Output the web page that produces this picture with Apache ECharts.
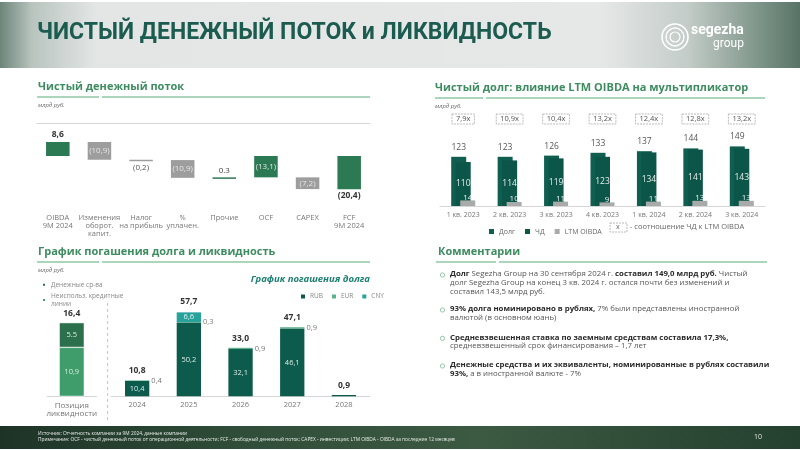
<!DOCTYPE html>
<html><head><meta charset="utf-8">
<script src="https://cdn.jsdelivr.net/npm/echarts@6/dist/echarts.min.js"></script>
<style>html,body{margin:0;padding:0;background:#fff}#c{width:800px;height:450px}</style>
</head><body><div id="c"></div>
<script>
// ---------- DATA ----------
const wfCategories = ['OIBDA\n9M 2024', 'Изменения\nоборот.\nкапит.', 'Налог\nна прибыль', '%\nуплачен.', 'Прочие', 'OCF', 'CAPEX', 'FCF\n9M 2024'];
const wfValues = [8.6, -10.9, -0.2, -10.9, 0.3, -13.1, -7.2, -20.4];
const wfIsTotal = [true, false, false, false, false, true, false, true];
const wfLabels = ['8,6', '(10,9)', '(0,2)', '(10,9)', '0.3', '(13,1)', '(7,2)', '(20,4)'];

const ndCategories = ['1 кв. 2023', '2 кв. 2023', '3 кв. 2023', '4 кв. 2023', '1 кв. 2024', '2 кв. 2024', '3 кв. 2024'];
const ndDebt = [123, 123, 126, 133, 137, 144, 149];
const ndNetDebt = [110, 114, 119, 123, 134, 141, 143];
const ndOibda = [14, 10, 11, 9, 11, 13, 13];
const ndRatio = ['7,9x', '10,9x', '10,4x', '13,2x', '12,4x', '12,8x', '13,2x'];

const liqCategories = ['Позиция\nликвидности'];
const liqCash = [5.5];
const liqCredit = [10.9];
const liqTotal = [16.4];

const repCategories = ['2024', '2025', '2026', '2027', '2028'];
const repRUB = [10.4, 50.2, 32.1, 46.1, 0.9];
const repEUR = [0.4, 0.3, 0.9, 0.9, 0];
const repCNY = [0, 6.6, 0, 0, 0];
const repTotal = [10.8, 57.7, 33.0, 47.1, 0.9];

// ---------- STYLE ----------
const FONT = '"Open Sans", "Noto Sans", sans-serif';
const C_GREEN = '#2b7a53', C_GRAY = '#9d9d9d';
const wfLabelPlace = ['top', 'inside', 'bottom', 'inside', 'top', 'inside', 'inside', 'bottom'];
const fmt = v => v.toFixed(1).replace('.', ',');

// waterfall ranges derived from values
const wfData = [];
let run = 0;
wfValues.forEach((v, i) => {
  let s, e;
  if (wfIsTotal[i]) { s = 0; e = v; run = v; } else { s = run; run = run + v; e = run; }
  wfData.push([i, s, e]);
});

const chart = echarts.init(document.getElementById('c'), null, {renderer: 'canvas'});

function sectionTitle(text, x, y, x0, gap, x1) {
  return [
    {type: 'text', left: x, top: y - 7, style: {text, font: 'bold 11px ' + FONT, fill: '#3d8c60'}},
    {type: 'line', shape: {x1: x0, y1: y + 9, x2: gap, y2: y + 9}, style: {stroke: '#8fc8a6', lineWidth: 1.5}},
    {type: 'line', shape: {x1: gap + 3, y1: y + 9, x2: x1, y2: y + 9}, style: {stroke: '#8fc8a6', lineWidth: 1.5}},
    {type: 'text', left: x, top: y + 14, style: {text: 'млрд руб.', font: 'italic 6px ' + FONT, fill: '#666'}}
  ];
}

const richB = {b: {fontWeight: 'bold', fill: '#2a2a2a', fontSize: 7.8, fontFamily: 'Open Sans'}};
function cLine(text, y) {
  return {type: 'text', left: 450, top: y - 5, style: {text, font: '7.8px ' + FONT, fill: '#555', rich: richB}};
}
function bullet(y) {
  return {type: 'circle', shape: {cx: 442.5, cy: y, r: 2.1}, style: {fill: 'none', stroke: '#8abf9f', lineWidth: 0.9}};
}

const graphic = [
  // header
  {type: 'rect', shape: {x: 0, y: 2, width: 800, height: 66}, style: {fill: new echarts.graphic.LinearGradient(0, 0, 1, 0, [
    {offset: 0, color: '#6c8579'}, {offset: 0.04, color: '#b9c4bf'}, {offset: 0.12, color: '#e3e6e5'},
    {offset: 0.75, color: '#e6e8e7'}, {offset: 0.86, color: '#c3ccc8'}, {offset: 0.95, color: '#7d9488'}, {offset: 1, color: '#587366'}])}, z: 0},
  {type: 'text', left: 37, top: 22, style: {text: 'ЧИСТЫЙ ДЕНЕЖНЫЙ ПОТОК и ЛИКВИДНОСТЬ', font: 'bold 23px Roboto, "Liberation Sans", sans-serif', fill: '#1c5b4f'}},
  {type: 'circle', shape: {cx: 675, cy: 37, r: 13}, style: {fill: 'none', stroke: '#fff', lineWidth: 1.6}},
  {type: 'circle', shape: {cx: 675, cy: 37, r: 9}, style: {fill: 'none', stroke: '#fff', lineWidth: 1.4}},
  {type: 'circle', shape: {cx: 675, cy: 37, r: 5}, style: {fill: 'none', stroke: '#fff', lineWidth: 1.2}},
  {type: 'text', left: 691, top: 23, style: {text: 'segezha', font: 'bold 14px Roboto, sans-serif', fill: '#fff'}},
  {type: 'text', left: 713, top: 38, style: {text: 'group', font: '12px Roboto, sans-serif', fill: '#fff'}},
  // footer
  {type: 'rect', shape: {x: 0, y: 426, width: 800, height: 23}, style: {fill: new echarts.graphic.LinearGradient(0, 0, 1, 0, [
    {offset: 0, color: '#1d3326'}, {offset: 0.3, color: '#2f4d38'}, {offset: 0.6, color: '#3c5a42'}, {offset: 1, color: '#24402f'}])}},
  {type: 'text', left: 38, top: 431, style: {text: 'Источник: Отчетность компании за 9М 2024, данные компании', font: '4.8px ' + FONT, fill: '#e8ece9'}},
  {type: 'text', left: 38, top: 437.5, style: {text: 'Примечание: OCF - чистый денежный поток от операционной деятельности; FCF - свободный денежный поток; CAPEX - инвестиции; LTM OIBDA - OIBDA за последние 12 месяцев', font: '4.8px ' + FONT, fill: '#e8ece9'}},
  {type: 'text', left: 754, top: 433, style: {text: '10', font: '7px ' + FONT, fill: '#dfe6e1'}},
  ...sectionTitle('Чистый денежный поток', 38, 88, 37, 99, 370),
  ...sectionTitle('Чистый долг: влияние LTM OIBDA на мультипликатор', 435, 89, 435, 483, 765),
  ...sectionTitle('График погашения долга и ликвидность', 38, 253, 37, 99, 370),
  {type: 'text', left: 438, top: 246, style: {text: 'Комментарии', font: 'bold 11px ' + FONT, fill: '#3d8c60'}},
  {type: 'line', shape: {x1: 436, y1: 262, x2: 496, y2: 262}, style: {stroke: '#8fc8a6', lineWidth: 1.5}},
  {type: 'line', shape: {x1: 499, y1: 262, x2: 767, y2: 262}, style: {stroke: '#8fc8a6', lineWidth: 1.5}},
  // net debt legend ratio box
  {type: 'rect', shape: {x: 610, y: 223, width: 17, height: 9}, style: {fill: '#fff', stroke: '#aaa', lineWidth: 0.8, lineDash: [2, 1]}},
  {type: 'text', left: 616, top: 223.5, style: {text: 'x', font: '7px ' + FONT, fill: '#666'}},
  {type: 'text', left: 630, top: 223, style: {text: '- соотношение ЧД к LTM OIBDA', font: '7.5px ' + FONT, fill: '#666'}},
  // repayment subtitle & separator
  {type: 'text', right: 430, top: 274, style: {text: 'График погашения долга', font: 'italic bold 9.5px ' + FONT, fill: '#1d7f72'}},
  {type: 'line', shape: {x1: 107.7, y1: 303, x2: 107.7, y2: 420}, style: {stroke: '#b5b5b5', lineWidth: 0.8, lineDash: [3, 3]}},
  // comments
  bullet(275), bullet(310), bullet(338.3), bullet(366),
  cLine('{b|Долг} Segezha Group на 30 сентября 2024 г. {b|составил 149,0 млрд руб.} Чистый', 275),
  cLine('долг Segezha Group на конец 3 кв. 2024 г. остался почти без изменений и', 283.7),
  cLine('составил 143,5 млрд руб.', 292.3),
  cLine('{b|93% долга номинировано в рублях,} 7% были представлены иностранной', 310),
  cLine('валютой (в основном юань)', 318.7),
  cLine('{b|Средневзвешенная ставка по заемным средствам составила 17,3%,}', 338.3),
  cLine('средневзвешенный срок финансирования – 1,7 лет', 346.7),
  cLine('{b|Денежные средства и их эквиваленты, номинированные в рублях составили}', 366),
  cLine('{b|93%,} а в иностранной валюте - 7%', 374.3)
];

const catLabel = {fontSize: 7.5, color: '#777', fontFamily: 'Open Sans', lineHeight: 8};
const hiddenAxis = {axisLine: {show: false}, axisTick: {show: false}, splitLine: {show: false}};

const option = {
  animation: false,
  textStyle: {fontFamily: 'Open Sans'},
  grid: [
    {left: 37, top: 123.4, width: 333, height: 81.5},
    {left: 440, top: 126, width: 325, height: 80},
    {left: 47, top: 306.5, width: 49.5, height: 89.8},
    {left: 111.3, top: 293.4, width: 258.5, height: 102.9}
  ],
  xAxis: [
    {type: 'category', gridIndex: 0, data: wfCategories, ...hiddenAxis, axisLabel: {...catLabel, margin: 9, interval: 0}},
    {type: 'category', gridIndex: 0, data: wfCategories, axisLine: {onZero: true, lineStyle: {color: '#d6d6d6', width: 1}}, axisTick: {show: false}, axisLabel: {show: false}},
    {type: 'category', gridIndex: 1, data: ndCategories, axisLine: {lineStyle: {color: '#d6d6d6'}}, axisTick: {show: false}, axisLabel: {...catLabel, fontSize: 7, margin: 5, interval: 0}},
    {type: 'category', gridIndex: 1, position: 'top', data: ndRatio, ...hiddenAxis, axisLabel: {fontSize: 7.5, color: '#555', fontFamily: 'Open Sans', margin: 2, padding: [1, 4, 1, 4], borderColor: '#aaa', borderWidth: 0.8, borderType: [2, 1], interval: 0}},
    {type: 'category', gridIndex: 2, data: liqCategories, axisLine: {lineStyle: {color: '#d6d6d6'}}, axisTick: {show: false}, axisLabel: {...catLabel, fontSize: 8, margin: 5}},
    {type: 'category', gridIndex: 3, data: repCategories, axisLine: {lineStyle: {color: '#d6d6d6'}}, axisTick: {show: false}, axisLabel: {...catLabel, fontSize: 7.5, margin: 5}}
  ],
  yAxis: [
    {type: 'value', gridIndex: 0, min: -30, max: 20, show: false},
    {type: 'value', gridIndex: 1, min: 0, max: 200, show: false},
    {type: 'value', gridIndex: 2, min: 0, max: 20, show: false},
    {type: 'value', gridIndex: 3, min: 0, max: 70, show: false}
  ],
  legend: [
    {data: ['Долг', 'ЧД', 'LTM OIBDA'], left: 484, top: 223, icon: 'rect', itemWidth: 5, itemHeight: 5, itemGap: 10,
      textStyle: {fontSize: 7, color: '#666', fontFamily: 'Open Sans'}},
    {data: ['Денежные ср-ва', 'Неиспольз. кредитные\nлинии'], orient: 'vertical', left: 36, top: 276, icon: 'rect', itemWidth: 4, itemHeight: 4, itemGap: 4,
      textStyle: {fontSize: 6.5, color: '#888', fontFamily: 'Open Sans', lineHeight: 7.5}},
    {data: ['RUB', 'EUR', 'CNY'], left: 296, top: 288, icon: 'rect', itemWidth: 4, itemHeight: 4, itemGap: 9,
      textStyle: {fontSize: 6.5, color: '#888', fontFamily: 'Open Sans'}}
  ],
  series: [
    {
      type: 'custom', name: 'wf', xAxisIndex: 0, yAxisIndex: 0, clip: false,
      encode: {x: 0, y: [1, 2]},
      data: wfData,
      renderItem: function (params, api) {
        const i = api.value(0);
        const p1 = api.coord([i, api.value(1)]);
        const p2 = api.coord([i, api.value(2)]);
        const w = api.size([1, 0])[0] * 0.565;
        const y1 = Math.min(p1[1], p2[1]);
        const h = Math.max(Math.abs(p2[1] - p1[1]), 1.5);
        const y2 = y1 + h;
        const color = wfIsTotal[i] || wfValues[i] > 0 ? C_GREEN : C_GRAY;
        const place = wfLabelPlace[i];
        let ly, va, fill, weight = 'normal';
        if (place === 'inside') { ly = (y1 + y2) / 2; va = 'middle'; fill = '#e4e8e5'; }
        else if (place === 'top') { ly = y1 - 3; va = 'bottom'; fill = '#444'; }
        else { ly = y2 + 2; va = 'top'; fill = '#555'; }
        if (wfIsTotal[i] && place !== 'inside') { weight = 'bold'; fill = '#333'; }
        return {
          type: 'group', children: [
            {type: 'rect', shape: {x: p1[0] - w / 2, y: y1, width: w, height: h}, style: {fill: color}},
            {type: 'text', style: {text: wfLabels[i], x: p1[0], y: ly, align: 'center', verticalAlign: va, fill,
              font: weight + ' ' + (weight === 'bold' ? 8.5 : 8) + 'px ' + FONT}}
          ]
        };
      }
    },
    {
      type: 'bar', name: 'Долг', xAxisIndex: 2, yAxisIndex: 1, data: ndDebt, barWidth: 15, itemStyle: {color: '#0f5e50'},
      label: {show: true, position: 'top', distance: 5, fontSize: 8.5, color: '#555', fontFamily: 'Open Sans'}
    },
    {
      type: 'bar', name: 'ЧД', xAxisIndex: 2, yAxisIndex: 1, data: ndNetDebt, barWidth: 15, itemStyle: {color: '#0b5649'},
      label: {show: true, position: 'inside', fontSize: 8.5, color: '#e6efec', fontFamily: 'Open Sans'}
    },
    {
      type: 'bar', name: 'LTM OIBDA', xAxisIndex: 2, yAxisIndex: 1, data: ndOibda, barWidth: 15, barGap: '-70%', itemStyle: {color: '#a9abaa'},
      label: {show: true, position: 'top', distance: -1, fontSize: 8, color: '#eef2f0', fontFamily: 'Open Sans'}
    },
    {
      type: 'bar', name: 'Неиспольз. кредитные\nлинии', xAxisIndex: 4, yAxisIndex: 2, stack: 'liq', data: liqCredit, barWidth: 25,
      itemStyle: {color: '#3f9d6c', borderColor: '#fff', borderWidth: 0.5},
      label: {show: true, position: 'inside', fontSize: 7.5, color: '#d8eee1', formatter: p => fmt(p.value)}
    },
    {
      type: 'bar', name: 'Денежные ср-ва', xAxisIndex: 4, yAxisIndex: 2, stack: 'liq', data: liqCash, barWidth: 25,
      itemStyle: {color: '#2c6f4d', borderColor: '#fff', borderWidth: 0.5},
      label: {show: true, position: 'inside', fontSize: 7.5, color: '#d8eee1', formatter: p => fmt(p.value).replace(',', '.')}
    },
    {
      type: 'bar', name: 'liqTotal', xAxisIndex: 4, yAxisIndex: 2, data: liqTotal, barWidth: 25, barGap: '-100%', itemStyle: {color: 'rgba(0,0,0,0)'},
      label: {show: true, position: 'top', distance: 5, fontSize: 8.5, fontWeight: 'bold', color: '#333', formatter: p => fmt(p.value)}
    },
    {
      type: 'bar', name: 'RUB', xAxisIndex: 5, yAxisIndex: 3, stack: 'rep', data: repRUB, barWidth: 24.3, itemStyle: {color: '#0c5b4c'},
      label: {show: true, position: 'inside', fontSize: 7.5, color: '#dcebe6', formatter: p => p.value >= 2 ? fmt(p.value) : ''}
    },
    {
      type: 'bar', name: 'EUR', xAxisIndex: 5, yAxisIndex: 3, stack: 'rep', data: repEUR, barWidth: 24.3, itemStyle: {color: '#5cb08c'},
      label: {show: true, position: 'right', distance: 2, fontSize: 7.5, color: '#777', formatter: p => p.value > 0 ? fmt(p.value) : ''}
    },
    {
      type: 'bar', name: 'CNY', xAxisIndex: 5, yAxisIndex: 3, stack: 'rep', data: repCNY, barWidth: 24.3, itemStyle: {color: '#27a39b'},
      label: {show: true, position: 'inside', fontSize: 7.5, color: '#e6f4f2', formatter: p => p.value > 0 ? fmt(p.value) : ''}
    },
    {
      type: 'bar', name: 'repTotal', xAxisIndex: 5, yAxisIndex: 3, data: repTotal, barWidth: 24.3, barGap: '-100%', itemStyle: {color: 'rgba(0,0,0,0)'},
      label: {show: true, position: 'top', distance: 5, fontSize: 8.5, fontWeight: 'bold', color: '#333', formatter: p => fmt(p.value)}
    }
  ],
  graphic: graphic
};
chart.setOption(option);
</script>
</body></html>
